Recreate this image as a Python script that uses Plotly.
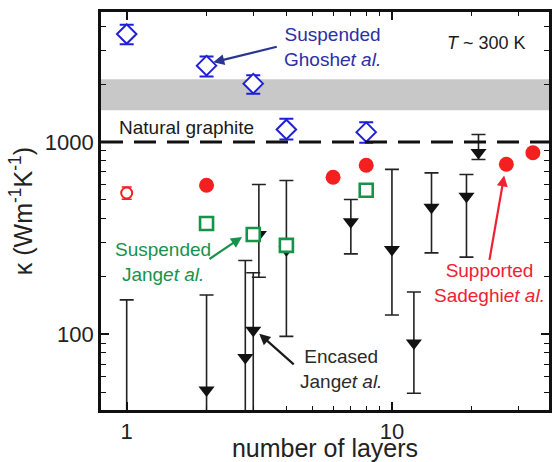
import math
import plotly.graph_objects as go

# ---------------- data ----------------
# Suspended, Ghosh et al.
ghosh_x = [1, 2, 3, 4, 8]
ghosh_y = [3640, 2494, 2010, 1162, 1125]
ghosh_err_plus = [430, 291, 210, 159, 143]
ghosh_err_minus = [420, 304, 228, 132, 135]

# Supported, Sadeghi et al.
sadeghi_x = [2, 6, 8, 27, 34]
sadeghi_y = [596, 656, 757, 766, 879]
sadeghi_open_x = [1]
sadeghi_open_y = [543]
sadeghi_open_err = [40]

# Suspended, Jang et al.
jang_s_x = [2, 3, 4, 8]
jang_s_y = [377, 330, 290, 561]

# Encased, Jang et al. (upper-bound style error bars)
jang_e_x = [1, 2, 2.8, 3, 3.15, 4, 7, 10, 12.1, 14.1, 19.1, 21.2]
jang_e_y = [30, 51.4, 75.7, 105, 330, 275, 385, 276, 90, 458, 522, 881]
jang_e_hi = [151, 160, 242, 209, 601, 630, 502, 720, 166, 691, 677, 1094]
jang_e_lo = [10, 10, 10, 10, 198, 97.5, 262, 126, 49.4, 265, 252, 811]

# Natural graphite references
graphite_band = [1460, 2120]
graphite_line = 1000

x_range = [0.8, 39.1]
y_range = [40.4, 4740]

x_major = [1, 10]
x_minor = [2, 3, 4, 5, 6, 7, 8, 9, 20, 30]
y_major = [100, 1000]
y_minor = [50, 60, 70, 80, 90, 200, 300, 400, 500, 600, 700, 800, 900, 2000, 3000, 4000]

# ---------------- figure ----------------
BLUE = "#1f1fd6"
RED = "#f41f1f"
GREEN = "#159447"
FONT = "Liberation Sans, Arial, sans-serif"

fig = go.Figure()

# gray band and dashed line
fig.add_shape(type="rect", xref="paper", x0=0, x1=1, yref="y",
              y0=graphite_band[0], y1=graphite_band[1],
              fillcolor="#c8c8c8", line_width=0, layer="below")
fig.add_shape(type="line", xref="paper", x0=0, x1=1, yref="y",
              y0=graphite_line, y1=graphite_line,
              line=dict(color="#111111", width=3, dash="22px,11px"), layer="above")

# Encased Jang (black down triangles)
fig.add_trace(go.Scatter(
    x=jang_e_x, y=jang_e_y, mode="markers",
    marker=dict(symbol="triangle-down", size=14, color="#111111", line_width=0),
    error_y=dict(type="data", symmetric=False,
                 array=[h - y for h, y in zip(jang_e_hi, jang_e_y)],
                 arrayminus=[y - l for l, y in zip(jang_e_lo, jang_e_y)],
                 color="#222222", thickness=1.6, width=7),
    cliponaxis=True, showlegend=False))

# Suspended Jang (green open squares)
fig.add_trace(go.Scatter(
    x=jang_s_x, y=jang_s_y, mode="markers",
    marker=dict(symbol="square", size=13, color="white",
                line=dict(color=GREEN, width=2.6)),
    showlegend=False))

# Ghosh (blue open diamonds)
fig.add_trace(go.Scatter(
    x=ghosh_x, y=ghosh_y, mode="markers",
    marker=dict(symbol="diamond", size=15, color="white",
                line=dict(color=BLUE, width=2)),
    error_y=dict(type="data", symmetric=False, array=ghosh_err_plus,
                 arrayminus=ghosh_err_minus, color=BLUE, thickness=2, width=7),
    showlegend=False))

# Sadeghi (red circles)
fig.add_trace(go.Scatter(
    x=sadeghi_open_x, y=sadeghi_open_y, mode="markers",
    marker=dict(symbol="circle", size=11, color="white",
                line=dict(color=RED, width=2)),
    error_y=dict(type="data", array=sadeghi_open_err, color=RED, thickness=1.5, width=5),
    showlegend=False))
fig.add_trace(go.Scatter(
    x=sadeghi_x, y=sadeghi_y, mode="markers",
    marker=dict(symbol="circle", size=15, color=RED, line_width=0),
    showlegend=False))

# ---------------- annotations ----------------
def txt(x, y, text, color, size=19):
    fig.add_annotation(x=math.log10(x), y=math.log10(y), xref="x", yref="y",
                       text=text, showarrow=False, align="center",
                       font=dict(family=FONT, size=size, color=color))

def arrow(x, y, ax, ay, color):
    fig.add_annotation(x=math.log10(x), y=math.log10(y), xref="x", yref="y",
                       text="", showarrow=True, ax=ax, ay=ay,
                       arrowhead=2, arrowsize=1, arrowwidth=2.2, arrowcolor=color)

txt(5.96, 3105, "Suspended<br>Ghosh<i>et al.</i>", "#2e2ea6")
txt(22.7, 3290, "<i>T</i> ~ 300 K", "#1a1a1a", size=18)
txt(1.68, 1194, "Natural graphite", "#1a1a1a")
txt(1.37, 237, "Suspended<br>Jang<i>et al.</i>", "#17924a")
txt(6.44, 65.9, "Encased<br>Jang<i>et al.</i>", "#2a2a2a")
txt(23.3, 185, "Supported<br>Sadeghi<i>et al.</i>", "#ee2233")

arrow(2.12, 2594, 65, -16, "#283593")
arrow(2.72, 320.6, -34, 23, "#17924a")
arrow(3.16, 100.7, 36, 32, "#1a1a1a")
arrow(26.5, 670, -15, 86, "#ee2233")

# ---------------- axes ----------------
axis_common = dict(
    type="log", showgrid=False, zeroline=False, automargin=False,
    showline=True, linecolor="#111111", linewidth=2.6, mirror="allticks",
    ticks="inside", ticklen=8, tickwidth=1.6, tickcolor="#111111",
    tickfont=dict(family=FONT, size=22, color="#222222"),
)

fig.update_xaxes(
    **axis_common,
    range=[math.log10(x_range[0]), math.log10(x_range[1])],
    tickmode="array", tickvals=x_major, ticktext=[str(v) for v in x_major],
    minor=dict(tickmode="array", tickvals=x_minor, ticks="inside", ticklen=4,
               tickwidth=1.4, tickcolor="#111111"),
    title=dict(text="number of layers", font=dict(family=FONT, size=25, color="#222222"),
               standoff=6),
)
fig.update_yaxes(
    **axis_common,
    range=[math.log10(y_range[0]), math.log10(y_range[1])],
    tickmode="array", tickvals=y_major, ticktext=[str(v) for v in y_major],
    minor=dict(tickmode="array", tickvals=y_minor, ticks="inside", ticklen=5,
               tickwidth=1.4, tickcolor="#111111"),
    title=dict(text="κ (Wm<sup>-1</sup>K<sup>-1</sup>)",
               font=dict(family=FONT, size=25, color="#222222"), standoff=6),
)

fig.update_layout(
    width=552, height=462,
    margin=dict(l=101, r=3, t=12, b=52),
    plot_bgcolor="white", paper_bgcolor="white",
    showlegend=False,
    font=dict(family=FONT),
)

fig.write_html("out.html")
